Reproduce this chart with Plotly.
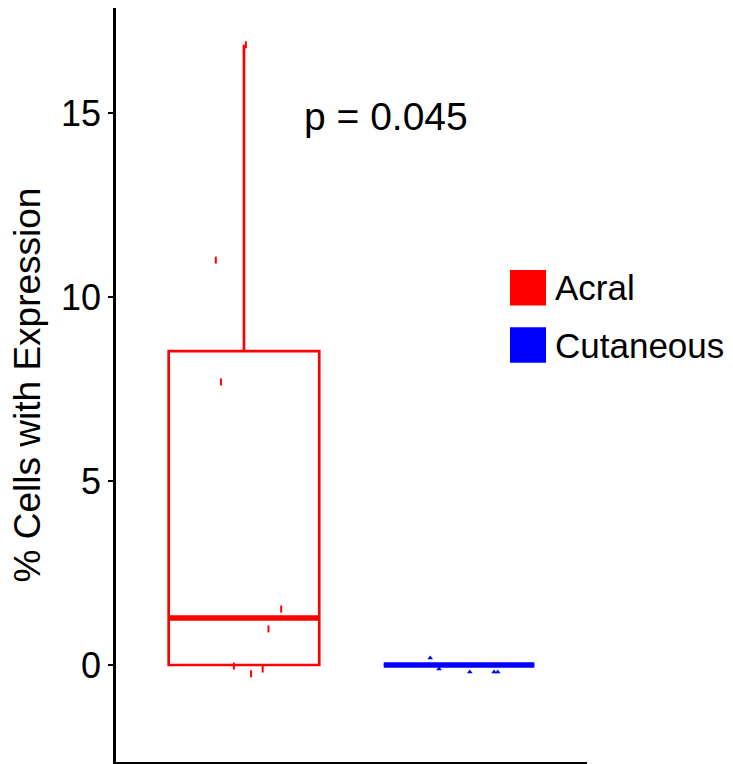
import numpy as np
import plotly.graph_objects as go

# ---- data ----
groups = ["Acral", "Cutaneous"]
colors = ["#FF0000", "#0000FF"]
acral_values = [16.85, 11.0, 7.7, 1.55, 1.0, 0.0, 0.0, 0.0]
cutaneous_values = [0.0, 0.0, 0.0, 0.0, 0.0, 0.0]
# jittered points as drawn (x offset from group centre, y value)
acral_jit_x = [0.009, -0.131, -0.107, 0.173, 0.114, -0.047, 0.087, 0.033]
acral_jit_y = [16.85, 11.0, 7.69, 1.52, 0.98, -0.03, -0.11, -0.24]
cut_jit_x = [-0.134, -0.093, 0.05, 0.163, 0.18, 0.0]
cut_jit_y = [0.19, -0.11, -0.19, -0.19, -0.19, 0.0]
p_label = "p = 0.045"
y_ticks = [0, 5, 10, 15]

values = [acral_values, cutaneous_values]
jit_x = [acral_jit_x, cut_jit_x]
jit_y = [acral_jit_y, cut_jit_y]
symbols = ["line-ns", "triangle-up"]

FONT = "Liberation Sans, Arial, sans-serif"
BOXW = 0.7

fig = go.Figure()
for i, (g, col) in enumerate(zip(groups, colors)):
    pos = i + 1
    v = np.array(values[i], dtype=float)
    q1, med, q3 = np.percentile(v, [25, 50, 75])
    iqr = q3 - q1
    lo = v[v >= q1 - 1.5 * iqr].min()
    hi = v[v <= q3 + 1.5 * iqr].max()
    fig.add_trace(go.Box(
        x=[pos], q1=[q1], median=[med], q3=[q3],
        lowerfence=[lo], upperfence=[hi],
        width=BOXW, whiskerwidth=0,
        fillcolor="rgba(255,255,255,0)",
        line=dict(color=col, width=2.7),
        boxpoints=False, showlegend=False, hoverinfo="skip",
    ))
    # thick median
    fig.add_trace(go.Scatter(
        x=[pos - BOXW / 2, pos + BOXW / 2], y=[med, med], mode="lines",
        line=dict(color=col, width=5.5), showlegend=False, hoverinfo="skip",
    ))
    # jittered points
    mk = dict(color=col, size=5, symbol=symbols[i])
    if symbols[i] == "line-ns":
        mk["line"] = dict(color=col, width=2)
    fig.add_trace(go.Scatter(
        x=[pos + dx for dx in jit_x[i]], y=jit_y[i], mode="markers",
        marker=mk, showlegend=False, hoverinfo="skip",
    ))

# p-value annotation
fig.add_annotation(x=1.66, y=14.9, xref="x", yref="y", text=p_label,
                   showarrow=False, font=dict(size=39, color="black", family=FONT))

# manual legend
leg_y = [0.629, 0.553]
for i, (g, col) in enumerate(zip(groups, colors)):
    yc = leg_y[i]
    fig.add_shape(type="rect", xref="paper", yref="paper",
                  x0=0.8365, x1=0.913, y0=yc - 0.0235, y1=yc + 0.0235,
                  fillcolor=col, line=dict(width=0))
    fig.add_annotation(x=0.928, y=yc, xref="paper", yref="paper", text=g,
                       showarrow=False, xanchor="left", yanchor="middle",
                       font=dict(size=35, color="black", family=FONT))

fig.update_layout(
    width=733, height=764,
    margin=dict(l=116, r=146, t=8, b=2),
    paper_bgcolor="white", plot_bgcolor="white",
    font=dict(family=FONT, color="black"),
    showlegend=False,
    xaxis=dict(range=[0.405, 2.595], showgrid=False, zeroline=False,
               showline=True, linecolor="black", linewidth=2.5,
               showticklabels=False, ticks=""),
    yaxis=dict(range=[-2.636, 17.85], showgrid=False, zeroline=False,
               showline=True, linecolor="black", linewidth=2.5,
               tickvals=y_ticks, ticks="outside", ticklen=5, tickwidth=2,
               tickcolor="black", tickfont=dict(size=36, color="black"),
               title=dict(text="% Cells with Expression",
                          font=dict(size=37, color="black"), standoff=10)),
)

fig.write_html("out.html")
